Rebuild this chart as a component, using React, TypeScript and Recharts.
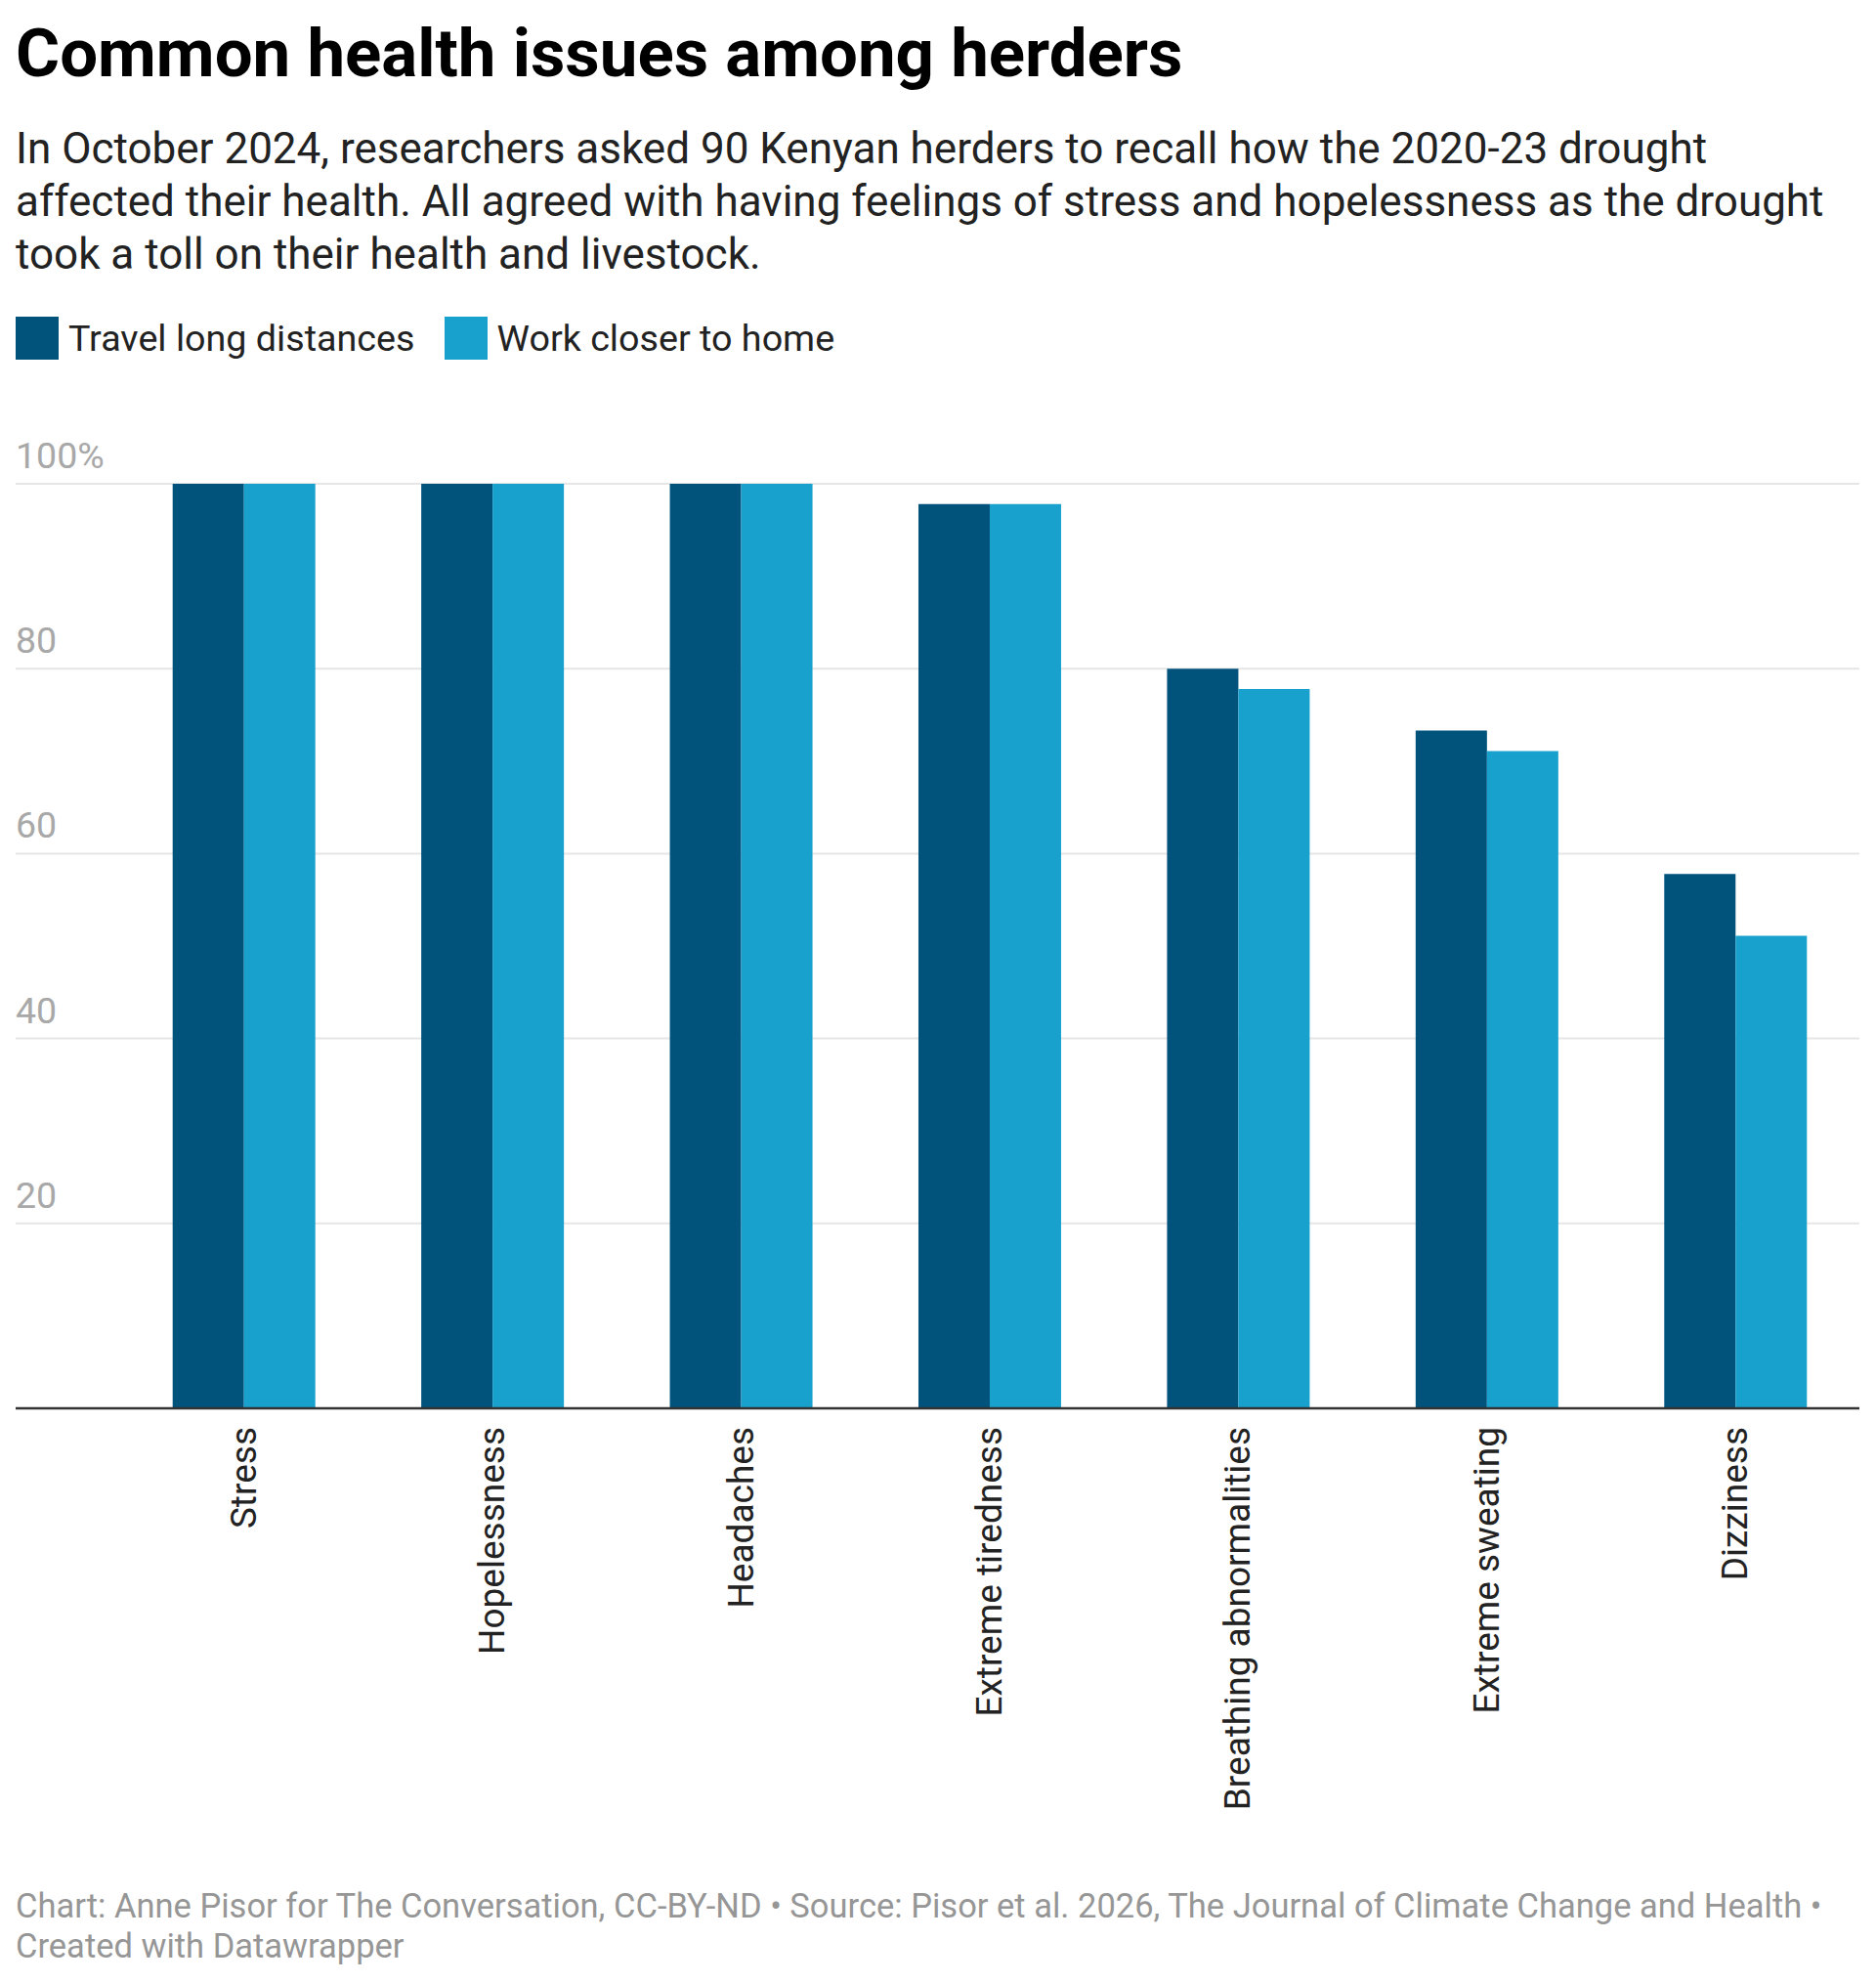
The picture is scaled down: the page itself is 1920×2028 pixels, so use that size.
import { BarChart, Bar, XAxis, YAxis, CartesianGrid } from "recharts";

const categories = [
  "Stress",
  "Hopelessness",
  "Headaches",
  "Extreme tiredness",
  "Breathing abnormalities",
  "Extreme sweating",
  "Dizziness",
];
const travelLong = [100, 100, 100, 97.8, 80, 73.3, 57.8];
const workCloser = [100, 100, 100, 97.8, 77.8, 71.1, 51.1];
const yTicks = [0, 20, 40, 60, 80, 100];

const seriesNames = ["Travel long distances", "Work closer to home"];
const DARK = "#02537c";
const LIGHT = "#18a1cd";
const FONT = "Roboto, 'Noto Sans', sans-serif";

const data = categories.map((category, i) => ({
  category,
  travel: travelLong[i],
  work: workCloser[i],
}));

function YTick(props: any) {
  const { y, payload } = props;
  const v = payload.value;
  return (
    <g>
      <line
        x1={16}
        x2={122}
        y1={y}
        y2={y}
        stroke={v === 0 ? "#333" : "#e6e6e6"}
        strokeWidth={v === 0 ? 2.5 : 2}
      />
      {v !== 0 && (
        <text x={16} y={y - 16} fill="#a8a8a8" fontSize={37.5} fontFamily={FONT}>
          {v === 100 ? "100%" : v}
        </text>
      )}
    </g>
  );
}

function XTick(props: any) {
  const { x, y, payload } = props;
  return (
    <text
      x={x}
      y={y}
      transform={`rotate(-90 ${x} ${y})`}
      textAnchor="end"
      dominantBaseline="central"
      fontSize={37}
      fontFamily={FONT}
      fill="#222"
    >
      {payload.value}
    </text>
  );
}

export default function App() {
  return (
    <div style={{ position: "relative", width: 1920, height: 2028, fontFamily: FONT, background: "#fff" }}>
      <style>{`body { margin: 0; }`}</style>
      <BarChart
        width={1920}
        height={2028}
        data={data}
        margin={{ top: 495, right: 17, bottom: 0, left: 16 }}
        barCategoryGap="21.5%"
        barGap={0}
      >
        <CartesianGrid vertical={false} stroke="#e6e6e6" strokeWidth={2} />
        <XAxis
          dataKey="category"
          interval={0}
          height={587}
          tickLine={false}
          tickSize={0}
          tickMargin={19}
          axisLine={{ stroke: "#333", strokeWidth: 2.5 }}
          tick={<XTick />}
        />
        <YAxis
          width={106}
          domain={[0, 100]}
          ticks={yTicks}
          interval={0}
          axisLine={false}
          tickLine={false}
          tick={<YTick />}
        />
        <Bar dataKey="travel" name={seriesNames[0]} fill={DARK} isAnimationActive={false} />
        <Bar dataKey="work" name={seriesNames[1]} fill={LIGHT} isAnimationActive={false} />
      </BarChart>

      <div style={{ position: "absolute", left: 16, top: 15, fontSize: 69, lineHeight: "80px", fontWeight: 700, color: "#000" }}>
        Common health issues among herders
      </div>
      <div style={{ position: "absolute", left: 16, top: 125, fontSize: 44, lineHeight: "54px", color: "#222" }}>
        In October 2024, researchers asked 90 Kenyan herders to recall how the 2020-23 drought
        <br />
        affected their health. All agreed with having feelings of stress and hopelessness as the drought
        <br />
        took a toll on their health and livestock.
      </div>
      <div style={{ position: "absolute", left: 16, top: 324, display: "flex", alignItems: "center", fontSize: 37.7, color: "#222" }}>
        {seriesNames.map((name, i) => (
          <div key={name} style={{ display: "flex", alignItems: "center", marginRight: 30 }}>
            <div style={{ width: 44, height: 44, background: i === 0 ? DARK : LIGHT, marginRight: 10 }} />
            <span style={{ lineHeight: "44px" }}>{name}</span>
          </div>
        ))}
      </div>
      <div style={{ position: "absolute", left: 16, top: 1930, fontSize: 34.5, lineHeight: "41px", color: "#969696" }}>
        Chart: Anne Pisor for The Conversation, CC-BY-ND • Source: Pisor et al. 2026, The Journal of Climate Change and Health •
        <br />
        Created with Datawrapper
      </div>
    </div>
  );
}
